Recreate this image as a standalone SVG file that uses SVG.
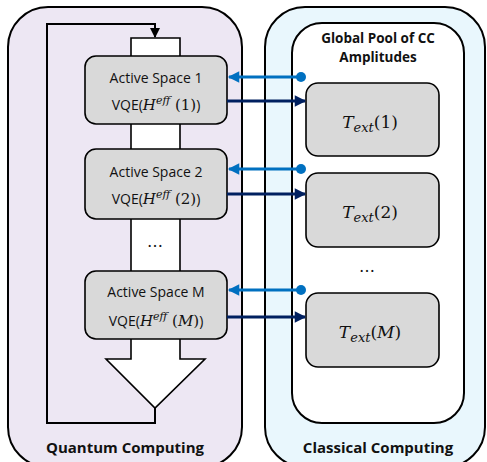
<svg xmlns="http://www.w3.org/2000/svg" width="487" height="462" viewBox="0 0 487 462">
  <defs>
    <style>
      .panel { stroke: #000; stroke-width: 2; }
      .box { fill: #D9D9D9; stroke: #000; stroke-width: 1.6; }
      .lbl { font-family: "Open Sans", "Liberation Sans", sans-serif; font-size: 14px; fill: #111; text-anchor: middle; }
      .bold { font-family: "Open Sans", "Liberation Sans", sans-serif; font-weight: bold; fill: #111; text-anchor: middle; }
      .math { font-family: "DejaVu Serif", "Liberation Serif", serif; fill: #111; }
      .blue { stroke: #0070C0; stroke-width: 3; fill: none; }
      .navy { stroke: #002060; stroke-width: 3; fill: none; }
      .loop { stroke: #000; stroke-width: 2; fill: none; }
    </style>
    <marker id="hBlue" viewBox="0 0 10 10" refX="9" refY="5" markerWidth="4.2" markerHeight="3.8" orient="auto">
      <path d="M0,0 L10,5 L0,10 z" fill="#0070C0"/>
    </marker>
    <marker id="hNavy" viewBox="0 0 10 10" refX="9" refY="5" markerWidth="4.2" markerHeight="3.8" orient="auto">
      <path d="M0,0 L10,5 L0,10 z" fill="#002060"/>
    </marker>
    <marker id="hBlack" viewBox="0 0 10 10" refX="9" refY="5" markerWidth="5" markerHeight="5" orient="auto">
      <path d="M0,0 L10,5 L0,10 z" fill="#000"/>
    </marker>
  </defs>

  <!-- Quantum computing panel -->
  <g id="quantum">
    <rect class="panel" x="8" y="7" width="234" height="460" rx="40" fill="#EDE7F3"/>
    <text class="bold" x="125" y="453" font-size="15">Quantum Computing</text>
  </g>

  <!-- Classical computing panel -->
  <g id="classical">
    <rect class="panel" x="265" y="7" width="220" height="460" rx="40" fill="#E9F7FD"/>
    <rect class="panel" x="292" y="23" width="172" height="400" rx="30" fill="#FFFFFF"/>
    <text class="bold" x="378" y="43" font-size="13.5">Global Pool of CC</text>
    <text class="bold" x="378" y="62" font-size="13.5">Amplitudes</text>
    <text class="math" x="367" y="272" font-size="16" text-anchor="middle">…</text>
    <text class="bold" x="378" y="453" font-size="15">Classical Computing</text>
  </g>

  <!-- Big downward flow arrow with feedback loop -->
  <g id="flow">
    <path d="M131,38 H180 V359 H205 L155,408 L106,359 H131 Z" fill="#FFFFFF" stroke="#000" stroke-width="1.6"/>
    <path class="loop" d="M155,408 V423 H47 V24 H155 V37" marker-end="url(#hBlack)"/>
    <text class="math" x="155" y="247" font-size="16" text-anchor="middle">…</text>
  </g>

  <!-- Active space nodes -->
  <g id="as1">
    <rect class="box" x="85" y="56" width="142" height="68" rx="11"/>
    <text class="lbl" x="156" y="83">Active Space 1</text>
    <text class="lbl" x="156" y="110">VQE(<tspan class="math" font-style="italic" font-size="15">H</tspan><tspan class="math" font-style="italic" font-size="11" dy="-6">eff</tspan><tspan class="math" font-size="15" dy="6"> (1)</tspan>)</text>
  </g>
  <g id="as2">
    <rect class="box" x="85" y="149" width="142" height="70" rx="11"/>
    <text class="lbl" x="156" y="177">Active Space 2</text>
    <text class="lbl" x="156" y="204">VQE(<tspan class="math" font-style="italic" font-size="15">H</tspan><tspan class="math" font-style="italic" font-size="11" dy="-6">eff</tspan><tspan class="math" font-size="15" dy="6"> (2)</tspan>)</text>
  </g>
  <g id="asM">
    <rect class="box" x="85" y="271" width="142" height="68" rx="11"/>
    <text class="lbl" x="156" y="297">Active Space M</text>
    <text class="lbl" x="156" y="326">VQE(<tspan class="math" font-style="italic" font-size="15">H</tspan><tspan class="math" font-style="italic" font-size="11" dy="-6">eff</tspan><tspan class="math" font-size="15" dy="6"> (</tspan><tspan class="math" font-style="italic" font-size="15">M</tspan><tspan class="math" font-size="15">)</tspan>)</text>
  </g>

  <!-- Amplitude nodes -->
  <g id="t1">
    <rect class="box" x="306" y="83" width="133" height="73" rx="12"/>
    <text class="math" x="370" y="128" font-size="17" text-anchor="middle"><tspan font-style="italic">T</tspan><tspan font-style="italic" font-size="13" dy="4">ext</tspan><tspan dy="-4">(1)</tspan></text>
  </g>
  <g id="t2">
    <rect class="box" x="306" y="173" width="133" height="74" rx="12"/>
    <text class="math" x="370" y="218" font-size="17" text-anchor="middle"><tspan font-style="italic">T</tspan><tspan font-style="italic" font-size="13" dy="4">ext</tspan><tspan dy="-4">(2)</tspan></text>
  </g>
  <g id="tM">
    <rect class="box" x="306" y="293" width="133" height="74" rx="12"/>
    <text class="math" x="370" y="338" font-size="17" text-anchor="middle"><tspan font-style="italic">T</tspan><tspan font-style="italic" font-size="13" dy="4">ext</tspan><tspan dy="-4">(</tspan><tspan font-style="italic">M</tspan><tspan>)</tspan></text>
  </g>

  <!-- Connectors -->
  <g id="connectors">
    <path class="blue" d="M301,77 H229" marker-end="url(#hBlue)"/>
    <circle cx="301" cy="77" r="5" fill="#0070C0"/>
    <path class="navy" d="M227,101 H305" marker-end="url(#hNavy)"/>

    <path class="blue" d="M301,169 H229" marker-end="url(#hBlue)"/>
    <circle cx="301" cy="169" r="5" fill="#0070C0"/>
    <path class="navy" d="M227,194 H305" marker-end="url(#hNavy)"/>

    <path class="blue" d="M301,290 H229" marker-end="url(#hBlue)"/>
    <circle cx="301" cy="290" r="5" fill="#0070C0"/>
    <path class="navy" d="M227,317 H305" marker-end="url(#hNavy)"/>
  </g>
</svg>
